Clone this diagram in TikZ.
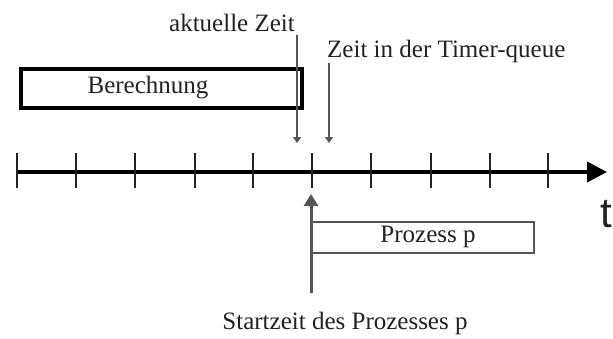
\documentclass[tikz,border=0pt]{standalone}
\usepackage{fontspec}
\setmainfont{Liberation Serif}
\newfontfamily\tfont{Liberation Sans}
\usetikzlibrary{arrows.meta}
\definecolor{ink}{HTML}{222222}
\definecolor{arrgray}{HTML}{555555}
\begin{document}
\begin{tikzpicture}[x=1pt,y=-1pt,
  lbl/.style={inner sep=0pt,text=ink,font=\fontsize{25}{29}\selectfont},
  tickline/.style={line width=2pt,draw=ink},
  thinarrow/.style={line width=1.8pt,draw=arrgray,-{Triangle[length=6pt,width=8pt]}},
  bigarrow/.style={line width=3pt,draw=arrgray,-{Triangle[length=12pt,width=14pt]}}]
\useasboundingbox (0,0) rectangle (613,338);
% time axis
\coordinate (a0) at (16,172);
\coordinate (a1) at (607,172);
\draw[line width=4pt,draw=black,-{Triangle[length=20pt,width=20pt]}] (a0) -- (a1);
\foreach \x in {17,76,135,195,253,312,371,431,490,548}
  \draw[tickline] (\x,153) -- (\x,188);
% Berechnung
\node[draw=black,line width=4pt,minimum width=281pt,minimum height=39pt,inner sep=0pt,anchor=north west] (ber) at (19,67) {};
\node[lbl] (bert) at (148,88) {Berechnung};
% aktuelle Zeit
\node[lbl,anchor=east] (akt) at (295,23) {aktuelle Zeit};
\coordinate (akt0) at (297,35);
\coordinate (akt1) at (297,143);
\draw[thinarrow] (akt0) -- (akt1);
% Timer queue
\node[lbl,anchor=west] (tq) at (327,51) {Zeit in der Timer-queue};
\coordinate (tq0) at (329,63);
\coordinate (tq1) at (329,143);
\draw[thinarrow] (tq0) -- (tq1);
% Prozess p
\node[draw=arrgray,line width=1.5pt,minimum width=222pt,minimum height=31pt,inner sep=0pt,anchor=north west] (proz) at (311,221) {};
\node[lbl] (prozt) at (428,237) {Prozess p};
% Startzeit
\coordinate (st0) at (311,293);
\coordinate (st1) at (311,194);
\draw[bigarrow] (st0) -- (st1);
\node[lbl] (start) at (345,323) {Startzeit des Prozesses p};
% t
\node[inner sep=0pt,anchor=base west,text=ink,font=\tfont\fontsize{42}{48}\selectfont] (t) at (600,227) {t};
\end{tikzpicture}
\end{document}
